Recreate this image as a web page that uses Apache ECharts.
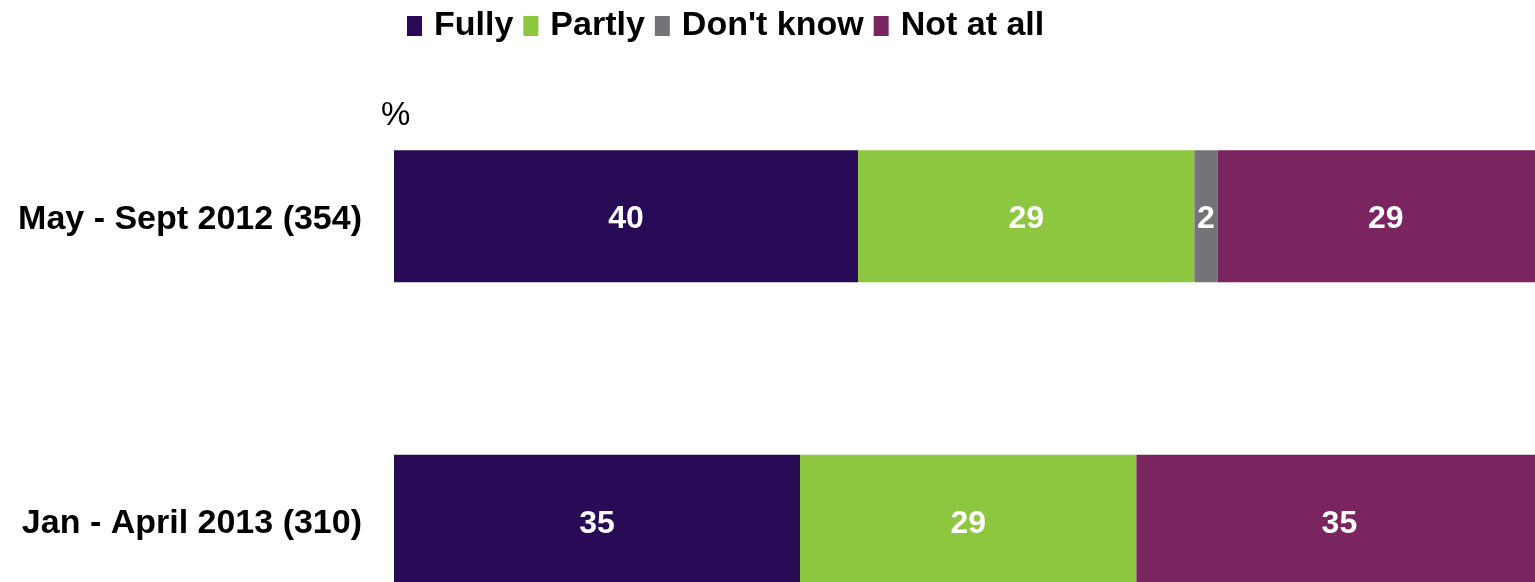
<!DOCTYPE html>
<html>
<head>
<meta charset="utf-8">
<script src="https://cdn.jsdelivr.net/npm/echarts@6/dist/echarts.min.js"></script>
<style>
  html, body { margin: 0; padding: 0; background: #ffffff; overflow: hidden; }
  /* the drawing runs past the right and bottom edges of the window */
  #chart { width: 1560px; height: 680px; }
</style>
</head>
<body>
<div id="chart"></div>
<script>
// Survey periods (with base sizes) and answer shares in percent
const categories = ['May - Sept 2012 (354)', 'Jan - April 2013 (310)'];
const seriesNames = ['Fully', 'Partly', "Don't know", 'Not at all'];
const fully = [40, 35];
const partly = [29, 29];
const dontKnow = [2, null];
const notAtAll = [29, 35];
const colors = ['#290a57', '#8dc63f', '#747378', '#7b2560'];

const values = [fully, partly, dontKnow, notAtAll];
const font = '"Liberation Sans", Arial, sans-serif';

const chart = echarts.init(document.getElementById('chart'), null, { renderer: 'canvas' });

chart.setOption({
  animation: false,
  backgroundColor: '#ffffff',
  textStyle: { fontFamily: font },
  legend: {
    left: 402,
    top: 4,
    icon: 'rect',
    itemWidth: 15,
    itemHeight: 20,
    itemGap: 10,
    textStyle: {
      fontFamily: font,
      fontSize: 34,
      fontWeight: 'bold',
      color: '#000000',
      padding: [0, 0, 0, 7]
    },
    data: seriesNames
  },
  title: {
    text: '%',
    left: 381,
    top: 99,
    padding: 0,
    textStyle: { fontFamily: font, fontSize: 33, fontWeight: 'normal', color: '#000000' }
  },
  grid: {
    left: 394,
    top: 64,
    right: 6,
    bottom: 7,
    containLabel: false
  },
  xAxis: {
    type: 'value',
    min: 0,
    max: 100,
    show: false
  },
  yAxis: {
    type: 'category',
    inverse: true,
    data: categories,
    axisLine: { show: false },
    axisTick: { show: false },
    axisLabel: {
      margin: 32,
      formatter: v => '{c|' + v + '}',
      rich: {
        c: {
          padding: [6, 0, 0, 0],
          fontFamily: font,
          fontSize: 34,
          fontWeight: 'bold',
          color: '#000000'
        }
      }
    }
  },
  series: seriesNames.map((name, i) => ({
    name: name,
    type: 'bar',
    stack: 'total',
    barWidth: 132,
    itemStyle: { color: colors[i] },
    label: {
      show: true,
      position: 'inside',
      offset: [0, 3],
      fontFamily: font,
      fontSize: 32,
      fontWeight: 'bold',
      color: '#ffffff',
      formatter: p => (p.value == null ? '' : String(p.value))
    },
    data: values[i]
  }))
});
</script>
</body>
</html>
